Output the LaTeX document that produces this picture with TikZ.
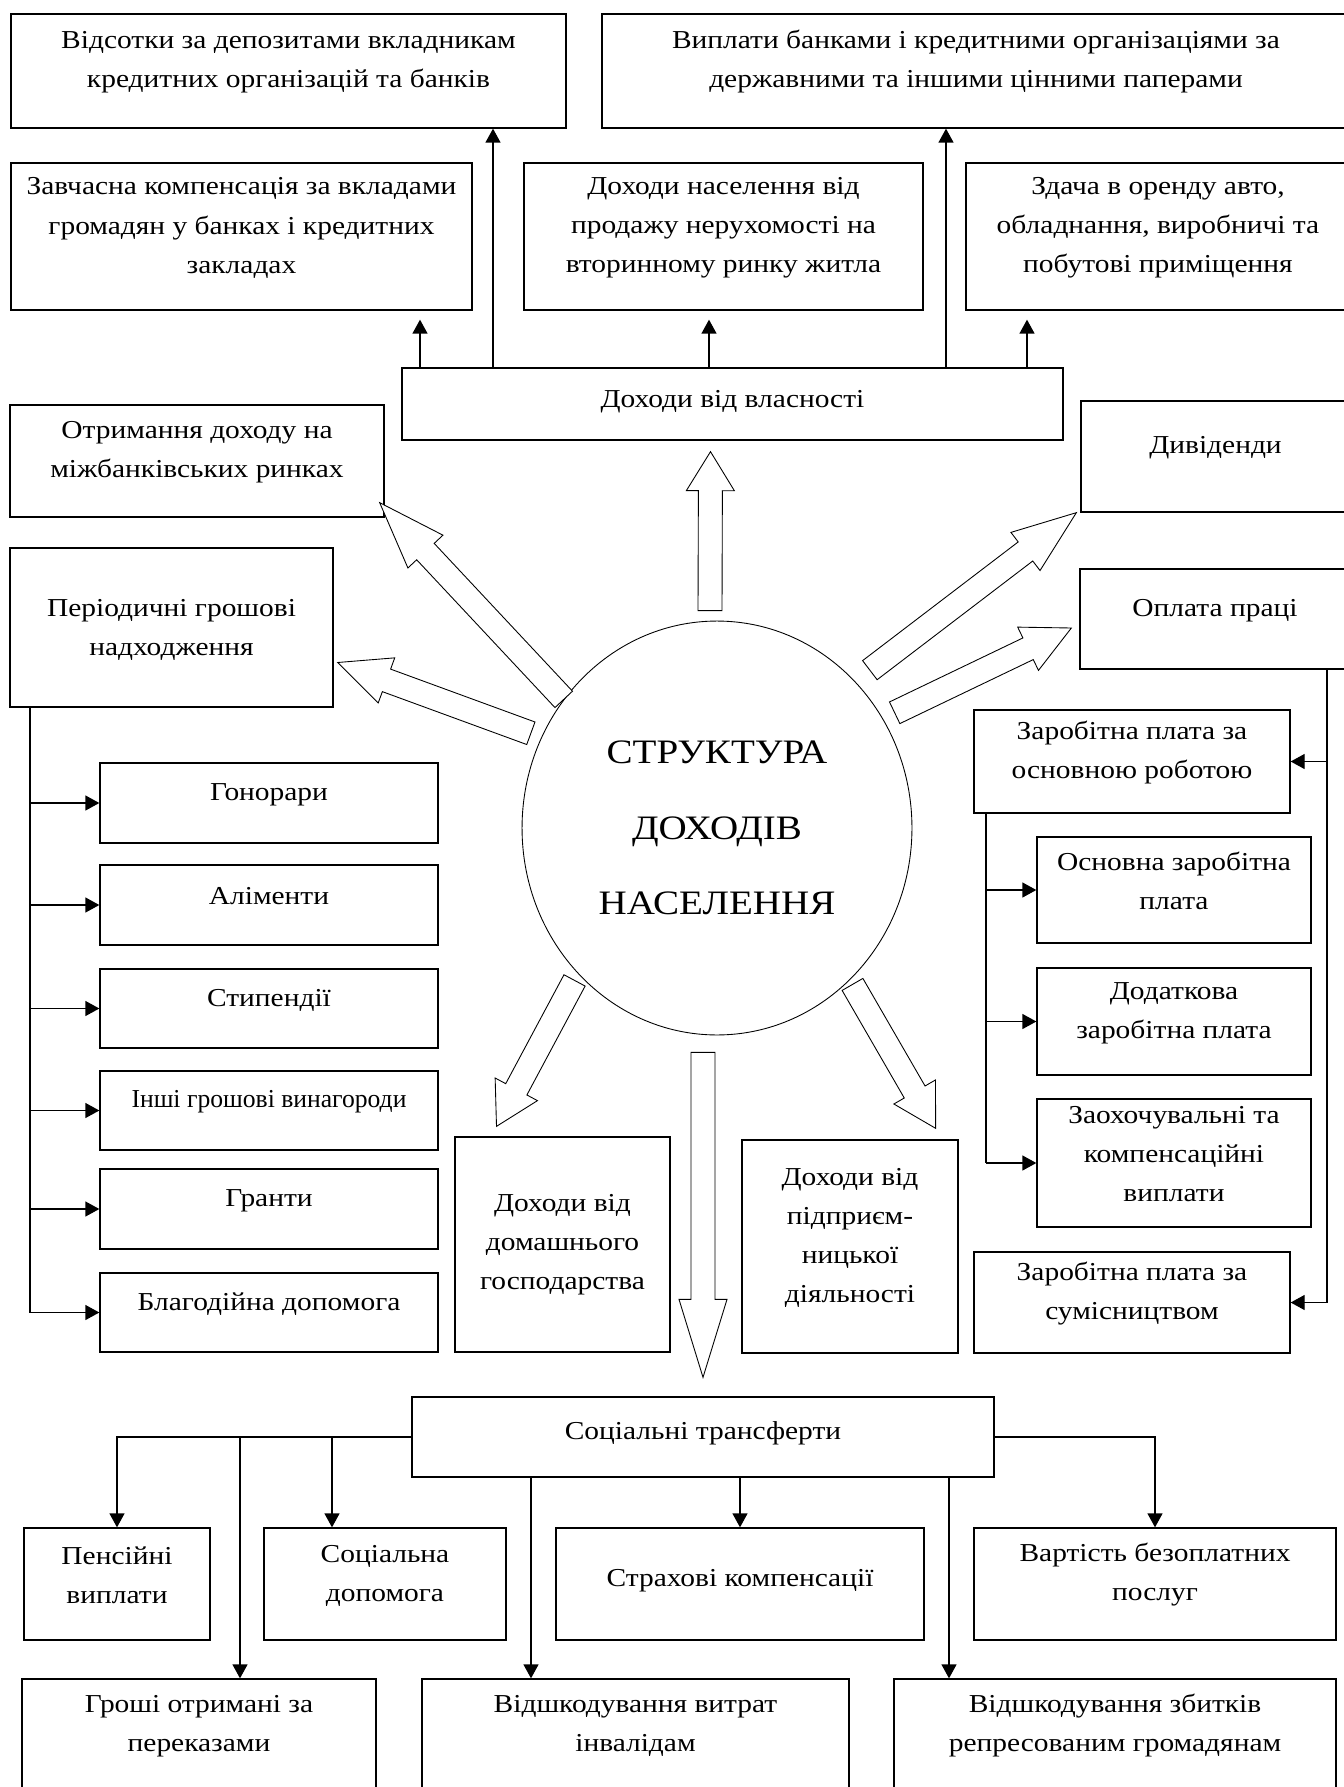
\documentclass[tikz,border=0pt]{standalone}
\usepackage{fontspec}
\setmainfont{Liberation Serif}[FakeStretch=1.14]
\usepackage{graphicx}
\usetikzlibrary{arrows.meta, calc, fit, shapes.geometric}

% hollow block arrow: [head length]{tail}{tip}
\newcommand{\bigarrow}[3][1.2cm]{%
  \draw[fatarrow] let \p1=($(#3)-(#2)$), \n1={atan2(\y1,\x1)} in
    ($(#2)+({\n1+90}:0.24cm)$) -- ($(#3)!#1!(#2)+({\n1+90}:0.24cm)$)
    -- ($(#3)!#1!(#2)+({\n1+90}:0.48cm)$) -- (#3)
    -- ($(#3)!#1!(#2)+({\n1-90}:0.48cm)$) -- ($(#3)!#1!(#2)+({\n1-90}:0.24cm)$)
    -- ($(#2)+({\n1-90}:0.24cm)$) -- cycle;}
% one text line set a little lower
\newcommand{\dropline}[2][0.1cm]{\raisebox{-#1}[\height][\depth]{#2}}

\begin{document}
\begin{tikzpicture}[x=0.02cm, y=-0.02cm, line width=0.75pt,
    box/.style={draw, inner sep=0pt, align=center, font=\fontsize{14.7}{22.2}\selectfont},
    fatarrow/.style={draw, line width=0.5pt, fill=white},
    >={Triangle[length=0.28cm, width=0.3cm]}]
    \useasboundingbox (0,0) rectangle (1344,1787);

    % centre
    \node[draw, ellipse, line width=0.5pt, minimum width=7.8cm, minimum height=8.28cm,
        align=center, font=\fontsize{19.5}{43}\selectfont] (c) at (717,828) {СТРУКТУРА\\ДОХОДІВ\\НАСЕЛЕННЯ};

    % property
    \node[box, fit={(402,368) (1063,440)}] (p_0) {\dropline[0.13cm]{Доходи від власності}};
    \node[box, fit={(11,14) (566,128)}] (p_1) {Відсотки за депозитами вкладникам\\кредитних організацій та банків};
    \node[box, fit={(602,14) (1350,128)}] (p_2) {Виплати банками і кредитними організаціями за\\державними та іншими цінними паперами};
    \node[box, fit={(11,163) (472,310)}] (p_3) {Завчасна компенсація за вкладами\\громадян у банках і кредитних\\закладах};
    \node[box, fit={(524,163) (923,310)}] (p_4) {Доходи населення від\\продажу нерухомості на\\вторинному ринку житла};
    \node[box, fit={(966,163) (1350,310)}] (p_5) {Здача в оренду авто,\\обладнання, виробничі та\\побутові приміщення};

    \node[box, fit={(10,405) (384,517)}] (i_0) {Отримання доходу на\\міжбанківських ринках};
    \node[box, fit={(1081,401) (1350,512)}] (d_0) {Дивіденди};

    % periodic payments
    \node[box, fit={(10,548) (333,707)}] (g_0) {\dropline[0.22cm]{Періодичні грошові}\\\dropline[0.22cm]{надходження}};
    \node[box, fit={(100,763) (438,843)}] (g_1) {Гонорари};
    \node[box, fit={(100,865) (438,945)}] (g_2) {Аліменти};
    \node[box, fit={(100,969) (438,1048)}] (g_3) {Стипендії};
    \node[box, fit={(100,1071) (438,1150)}] (g_4) {\scalebox{0.87}[1]{Інші грошові винагороди}};
    \node[box, fit={(100,1169) (438,1249)}] (g_5) {Гранти};
    \node[box, fit={(100,1273) (438,1352)}] (g_6) {Благодійна допомога};

    \node[box, fit={(455,1137) (670,1352)}] (h_0) {\dropline[0.18cm]{Доходи від}\\\dropline[0.18cm]{домашнього}\\\dropline[0.18cm]{господарства}};
    \node[box, fit={(742,1140) (958,1353)}] (e_0) {Доходи від\\підприєм-\\ницької\\діяльності};

    % wages
    \node[box, fit={(1080,569) (1350,669)}] (w_0) {Оплата праці};
    \node[box, fit={(974,710) (1290,813)}] (w_1) {Заробітна плата за\\основною роботою};
    \node[box, fit={(1037,837) (1311,943)}] (w_2) {Основна заробітна\\плата};
    \node[box, fit={(1037,968) (1311,1075)}] (w_3) {Додаткова\\заробітна плата};
    \node[box, fit={(1037,1099) (1311,1227)}] (w_4) {Заохочувальні та\\компенсаційні\\виплати};
    \node[box, fit={(974,1252) (1290,1353)}] (w_5) {Заробітна плата за\\сумісництвом};

    % social transfers
    \node[box, fit={(412,1397) (994,1477)}] (s_0) {\dropline[0.11cm]{Соціальні трансферти}};
    \node[box, fit={(24,1528) (210,1640)}] (s_1) {Пенсійні\\виплати};
    \node[box, fit={(264,1528) (506,1640)}] (s_2) {Соціальна\\допомога};
    \node[box, fit={(556,1528) (924,1640)}] (s_3) {\dropline[0.11cm]{Страхові компенсації}};
    \node[box, fit={(974,1528) (1336,1640)}] (s_4) {Вартість безоплатних\\послуг};
    \node[box, fit={(22,1679) (376,1790)}] (s_5) {Гроші отримані за\\переказами};
    \node[box, fit={(422,1679) (849,1790)}] (s_6) {Відшкодування витрат\\інвалідам};
    \node[box, fit={(894,1679) (1336,1790)}] (s_7) {Відшкодування збитків\\репресованим громадянам};

    \coordinate (x_1) at (420,0);
    \coordinate (x_2) at (493,0);
    \coordinate (x_3) at (709,0);
    \coordinate (x_4) at (946,0);
    \coordinate (x_5) at (1027,0);
    \coordinate (x_6) at (30,0);
    \coordinate (x_7) at (1327,0);
    \coordinate (x_8) at (986,0);
    \coordinate (x_9) at (240,0);
    \coordinate (x_10) at (332,0);
    \coordinate (x_11) at (531,0);
    \coordinate (x_12) at (949,0);

    \draw[->, shorten >=0.18cm] (p_0.north -| x_1) -- (p_3.south -| x_1);
    \draw[->] (p_0.north -| x_2) -- (p_1.south -| x_2);
    \draw[->, shorten >=0.18cm] (p_0.north -| x_3) -- (p_4.south -| x_3);
    \draw[->] (p_0.north -| x_4) -- (p_2.south -| x_4);
    \draw[->, shorten >=0.18cm] (p_0.north -| x_5) -- (p_5.south -| x_5);

    \draw (g_0.south -| x_6) -- (g_6.west -| x_6);
    \path[->]
        (g_1.west -| x_6) edge (g_1.west)
        (g_2.west -| x_6) edge (g_2.west)
        (g_3.west -| x_6) edge (g_3.west)
        (g_4.west -| x_6) edge (g_4.west)
        (g_5.west -| x_6) edge (g_5.west)
        (g_6.west -| x_6) edge (g_6.west);

    \draw (w_0.south -| x_7) -- (w_5.east -| x_7);
    \path[->]
        (w_1.east -| x_7) edge (w_1.east)
        (w_5.east -| x_7) edge (w_5.east);
    \draw (w_1.south -| x_8) -- (w_4.west -| x_8);
    \path[->]
        (w_2.west -| x_8) edge (w_2.west)
        (w_3.west -| x_8) edge (w_3.west)
        (w_4.west -| x_8) edge (w_4.west);

    \draw[->] (s_0.west) -| (s_1.north);
    \draw[->] (s_0.west -| x_9) -- (s_5.north -| x_9);
    \draw[->] (s_0.west -| x_10) -- (s_2.north -| x_10);
    \draw[->] (s_0.south -| x_11) -- (s_6.north -| x_11);
    \draw[->] (s_0.south -| s_3.north) -- (s_3.north);
    \draw[->] (s_0.south -| x_12) -- (s_7.north -| x_12);
    \draw[->] (s_0.east) -| (s_4.north);

    % block arrows out of the centre
    \coordinate (a_1) at ($(c.north)+(-7,-10)$);
    \coordinate (b_1) at ($(p_0.south)+(-22,11)$);
    \coordinate (a_2) at (c.140);
    \coordinate (b_2) at ($(i_0.south east)+(-5,-15)$);
    \coordinate (a_3) at ($(c.153)+(-10,-5)$);
    \coordinate (b_3) at ($(g_0.east)+(4,35)$);
    \coordinate (a_4) at ($(c.46)+(13,-13)$);
    \coordinate (b_4) at ($(d_0.south west)+(-4,0)$);
    \coordinate (a_5) at ($(c.33)+(11,-7)$);
    \coordinate (b_5) at ($(w_0.west)+(-8,9)$);
    \coordinate (a_6) at ($(c.227)+(-5,5)$);
    \coordinate (b_6) at ($(h_0.north)+(-66,-10)$);
    \coordinate (a_7) at ($(c.south -| s_0.north)+(0,17)$);
    \coordinate (b_7) at ($(s_0.north)+(0,-19)$);
    \coordinate (a_8) at ($(c.311)+(3,4)$);
    \coordinate (b_8) at ($(e_0.north east)+(-23,-11)$);

    \bigarrow[0.78cm]{a_1}{b_1}
    \bigarrow[1.34cm]{a_2}{b_2}
    \bigarrow[1.04cm]{a_3}{b_3}
    \bigarrow[1.28cm]{a_4}{b_4}
    \bigarrow[0.96cm]{a_5}{b_5}
    \bigarrow[0.84cm]{a_6}{b_6}
    \bigarrow[1.56cm]{a_7}{b_7}
    \bigarrow[0.84cm]{a_8}{b_8}
\end{tikzpicture}
\end{document}
